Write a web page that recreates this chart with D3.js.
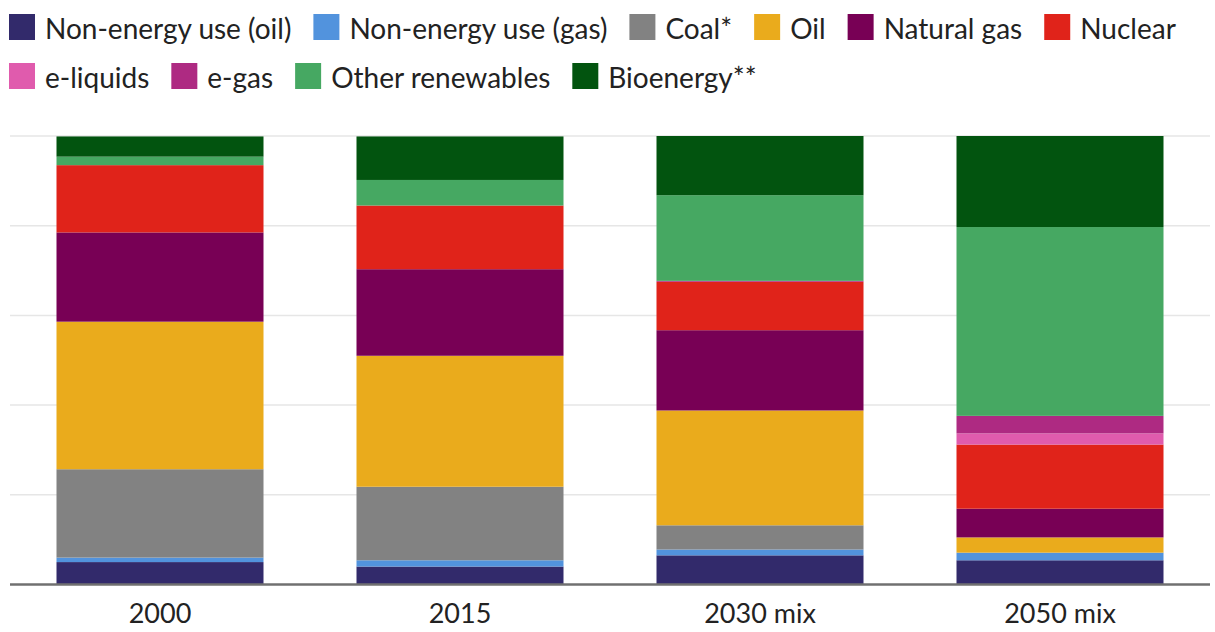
<!DOCTYPE html>
<html>
<head>
<meta charset="utf-8">
<script src="https://cdn.jsdelivr.net/npm/d3@7"></script>
<style>
  html, body { margin: 0; padding: 0; background: #fff; }
  svg text { font-family: Lato, "Open Sans", sans-serif; fill: #222; }
</style>
</head>
<body>
<svg id="chart" width="1215" height="632"></svg>
<script>
// Energy mix per year, share in % (stacked bottom → top)
const categories = ['2000', '2015', '2030 mix', '2050 mix'];
const seriesNames = ['Non-energy use (oil)', 'Non-energy use (gas)', 'Coal*', 'Oil', 'Natural gas',
  'Nuclear', 'e-liquids', 'e-gas', 'Other renewables', 'Bioenergy**'];
const seriesColors = ['#322a6b', '#5293dd', '#828282', '#eaab1c', '#780055',
  '#e0231a', '#e05bad', '#ae2a82', '#46a862', '#02540f'];

const nonEnergyOil = [5.0, 4.0, 6.5, 5.4];
const nonEnergyGas = [1.0, 1.4, 1.3, 1.7];
const coal         = [19.7, 16.4, 5.4, 0];
const oil          = [32.9, 29.2, 25.6, 3.4];
const naturalGas   = [19.9, 19.3, 17.9, 6.4];
const nuclear      = [15.0, 14.2, 10.8, 14.3];
const eLiquids     = [0, 0, 0, 2.5];
const eGas         = [0, 0, 0.2, 3.9];
const otherRenew   = [1.9, 5.7, 19.1, 42.1];
const bioenergy    = [4.5, 9.7, 13.2, 20.3];

const seriesValues = [nonEnergyOil, nonEnergyGas, coal, oil, naturalGas,
  nuclear, eLiquids, eGas, otherRenew, bioenergy];
const yTicks = [0, 20, 40, 60, 80, 100];

// ── layout ──
const PLOT = { left: 10, right: 1210, top: 136, bottom: 584.5 };
const LEGEND_ROWS = [{ y: 14, items: [0, 1, 2, 3, 4, 5] }, { y: 63, items: [6, 7, 8, 9] }];
const SWATCH = 26;

const svg = d3.select('#chart');

const table = categories.map((c, i) => {
  const row = { cat: c };
  seriesNames.forEach((s, j) => { row[s] = seriesValues[j][i]; });
  return row;
});
const stacked = d3.stack().keys(seriesNames)(table);

const x = d3.scaleBand().domain(categories).range([PLOT.left, PLOT.right])
  .paddingInner(0.31).paddingOuter(0.155);
const y = d3.scaleLinear().domain([0, 100]).range([PLOT.bottom, PLOT.top]);
const color = d3.scaleOrdinal().domain(seriesNames).range(seriesColors);

// gridlines
svg.append('g').selectAll('line').data(yTicks.slice(1)).join('line')
  .attr('x1', PLOT.left).attr('x2', PLOT.right)
  .attr('y1', d => y(d)).attr('y2', d => y(d))
  .attr('stroke', '#e6e6e6').attr('stroke-width', 1.5);

// stacked bars
svg.append('g').selectAll('g').data(stacked).join('g')
  .attr('fill', d => color(d.key))
  .selectAll('rect').data(d => d).join('rect')
  .attr('x', d => x(d.data.cat))
  .attr('width', x.bandwidth())
  .attr('y', d => y(d[1]))
  .attr('height', d => Math.max(0, y(d[0]) - y(d[1])));

// x axis
const xAxis = svg.append('g').attr('transform', `translate(0,${PLOT.bottom})`)
  .call(d3.axisBottom(x).tickSize(0).tickPadding(19));
xAxis.select('.domain').attr('stroke', '#707070').attr('stroke-width', 2.5)
  .attr('d', `M${PLOT.left},0H${PLOT.right}`);
xAxis.selectAll('text').attr('font-size', 27).attr('font-family', 'Lato, sans-serif')
  .attr('fill', '#222').attr('dy', '0.71em');

// legend: squares + labels, flowing left to right
LEGEND_ROWS.forEach(row => {
  let cx = 9;
  row.items.forEach(i => {
    const g = svg.append('g').attr('transform', `translate(${cx},${row.y})`);
    g.append('rect').attr('width', SWATCH).attr('height', SWATCH)
      .attr('fill', seriesColors[i]);
    const t = g.append('text').attr('x', SWATCH + 10).attr('y', SWATCH - 1)
      .attr('font-size', 28).text(seriesNames[i]);
    cx += SWATCH + 10 + t.node().getComputedTextLength() + 22;
  });
});
</script>
</body>
</html>
